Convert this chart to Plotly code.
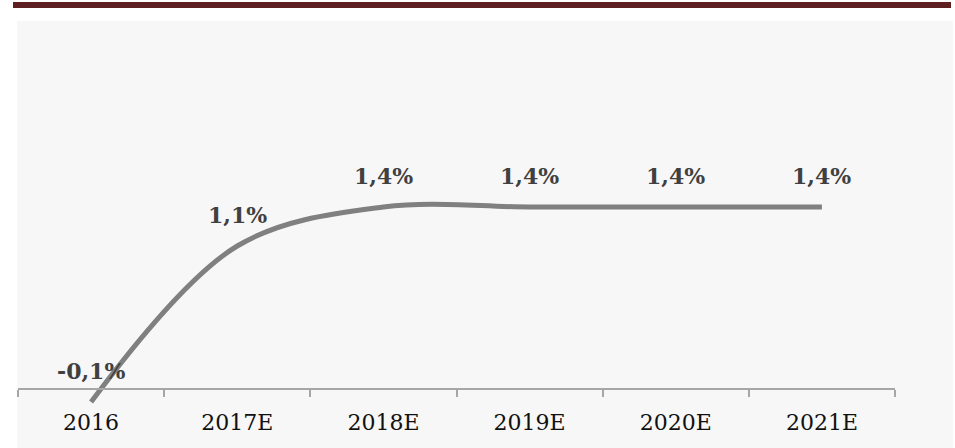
import plotly.graph_objects as go

# GDP growth, actual and estimated (%)
years = ["2016", "2017E", "2018E", "2019E", "2020E", "2021E"]
growth = [-0.1, 1.1, 1.4, 1.4, 1.4, 1.4]

W, H = 955, 448
SERIF = "DejaVu Serif"

# Pixel geometry of the plotting area
y_min, y_max = -0.3, 2.7
plot_bottom_px, plot_top_px = 428, 38
zero_px = 389


def fmt(v):
    return f"{v:.1f}".replace(".", ",") + "%"


fig = go.Figure()
fig.add_trace(go.Scatter(
    x=years,
    y=growth,
    mode="lines",
    line=dict(color="#808080", width=5, shape="spline", smoothing=1.0),
    hoverinfo="skip",
    showlegend=False,
))

# value labels above each point (category axis positions by index)
for i, v in enumerate(growth):
    fig.add_annotation(
        x=i, y=v, text=fmt(v), showarrow=False,
        yshift=31, xanchor="center", yanchor="middle",
        font=dict(family=SERIF, size=22, color="#404040", weight="bold"),
    )

# light panel behind the chart and the dark title rule
fig.add_shape(type="rect", xref="paper", yref="paper", layer="below",
              x0=17 / W, x1=953 / W, y0=0, y1=(H - 21) / H,
              line=dict(width=0), fillcolor="#f7f7f7")
fig.add_shape(type="rect", xref="paper", yref="paper", layer="above",
              x0=13 / W, x1=951 / W, y0=(H - 8) / H, y1=(H - 2) / H,
              line=dict(width=0), fillcolor="#5e1f20")

fig.update_layout(
    width=W, height=H,
    margin=dict(l=0, r=0, t=0, b=0),
    paper_bgcolor="white",
    plot_bgcolor="rgba(0,0,0,0)",
    xaxis=dict(
        type="category",
        domain=[18 / W, 895 / W],
        range=[-0.5, len(years) - 0.5],
        anchor="free",
        position=(H - zero_px) / H,
        showline=True, linecolor="#a6a6a6", linewidth=1.5,
        ticks="outside", tickson="boundaries", ticklen=7,
        tickcolor="#a6a6a6", tickwidth=1.5,
        showgrid=False, zeroline=False,
        tickfont=dict(family=SERIF, size=22, color="#111111"),
        ticklabelstandoff=14,
    ),
    yaxis=dict(
        domain=[(H - plot_bottom_px) / H, (H - plot_top_px) / H],
        range=[y_min, y_max],
        visible=False, showgrid=False, zeroline=False,
    ),
)

fig.write_html("out.html")
